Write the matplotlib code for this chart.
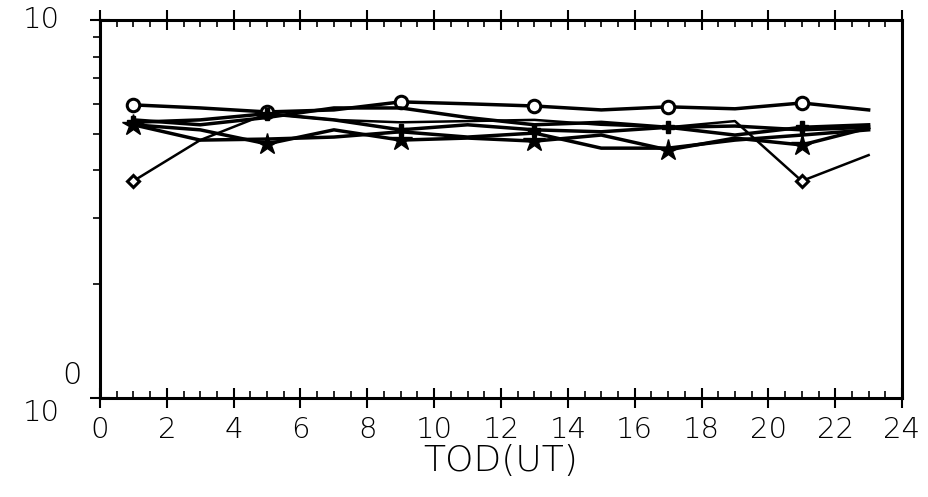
import numpy as np
import matplotlib
matplotlib.use("Agg")
import matplotlib.pyplot as plt
from matplotlib.ticker import MultipleLocator, FixedLocator, NullFormatter

# heures (UT) des points
tod = [1, 3, 5, 7, 9, 11, 13, 15, 17, 19, 21, 23]

# valeurs (echelle log)
s_cercle = [5.96, 5.85, 5.71, 5.78, 6.07, 6.00, 5.92, 5.78, 5.89, 5.82, 6.03, 5.78]
s_losange = [3.75, 4.81, 5.65, 5.44, 5.36, 5.40, 5.44, 5.28, 5.20, 5.40, 3.75, 4.39]
s_etoile = [5.28, 5.12, 4.70, 5.12, 4.81, 4.87, 4.78, 4.96, 4.53, 4.87, 4.67, 5.18]
s_plus = [5.36, 5.44, 5.65, 5.44, 5.12, 5.28, 5.12, 5.06, 5.20, 4.96, 5.20, 5.28]
s_e = [5.28, 4.81, 4.84, 4.90, 5.06, 4.90, 5.02, 4.58, 4.58, 4.81, 4.96, 5.12]
s_f = [5.44, 5.28, 5.52, 5.85, 5.85, 5.52, 5.28, 5.36, 5.20, 5.24, 5.12, 5.20]

xticks = list(range(0, 25, 2))

fig = plt.figure(figsize=(9.29, 4.97), dpi=100)
ax = fig.add_axes([0.1076, 0.199, 0.8634, 0.761])

lw = 2.5
ax.plot(tod, s_cercle, color="k", lw=lw, marker="o", ms=9, mfc="white", mew=2.2, markevery=2)
ax.plot(tod, s_losange, color="k", lw=1.8, marker="D", ms=6, mfc="white", mew=2.2, markevery=[0, 10])
ax.plot(tod, s_etoile, color="k", lw=lw, marker="*", ms=16, markevery=2)
ax.plot(tod, s_plus, color="k", lw=lw, marker="P", ms=9, markevery=2)
ax.plot(tod, s_e, color="k", lw=lw)
ax.plot(tod, s_f, color="k", lw=lw)

ax.set_yscale("log")
ax.set_ylim(1, 10)
ax.set_xlim(0, 24)

ax.xaxis.set_major_locator(FixedLocator(xticks))
ax.xaxis.set_minor_locator(MultipleLocator(0.5))
ax.set_xticklabels([str(t) for t in xticks], fontsize=21, fontweight="light")
ax.tick_params(axis="x", which="major", direction="inout", length=14, width=1.5, top=True, pad=6)
ax.tick_params(axis="x", which="minor", direction="in", length=5, width=1.2, top=True)

ax.yaxis.set_major_locator(FixedLocator([1, 10]))
ax.yaxis.set_minor_locator(FixedLocator([2, 3, 4, 5, 6, 7, 8, 9]))
ax.yaxis.set_major_formatter(NullFormatter())
ax.yaxis.set_minor_formatter(NullFormatter())
ax.tick_params(axis="y", which="major", direction="inout", length=14, width=1.5)
ax.tick_params(axis="y", which="minor", direction="out", length=5, width=1.2)

ax.text(-0.05, 1.0, "10", transform=ax.transAxes, ha="right", va="center",
        fontsize=21, fontweight="light")
ax.text(-0.05, -0.04, "10", transform=ax.transAxes, ha="right", va="center",
        fontsize=21, fontweight="light")
ax.text(-0.047, 0.06, "0", transform=ax.transAxes, ha="left", va="center",
        fontsize=22, fontweight="light")

for sp in ax.spines.values():
    sp.set_linewidth(2.2)

ax.set_xlabel("TOD(UT)", fontsize=26, fontweight="light", labelpad=0)

fig.savefig("out.png", dpi=100)
